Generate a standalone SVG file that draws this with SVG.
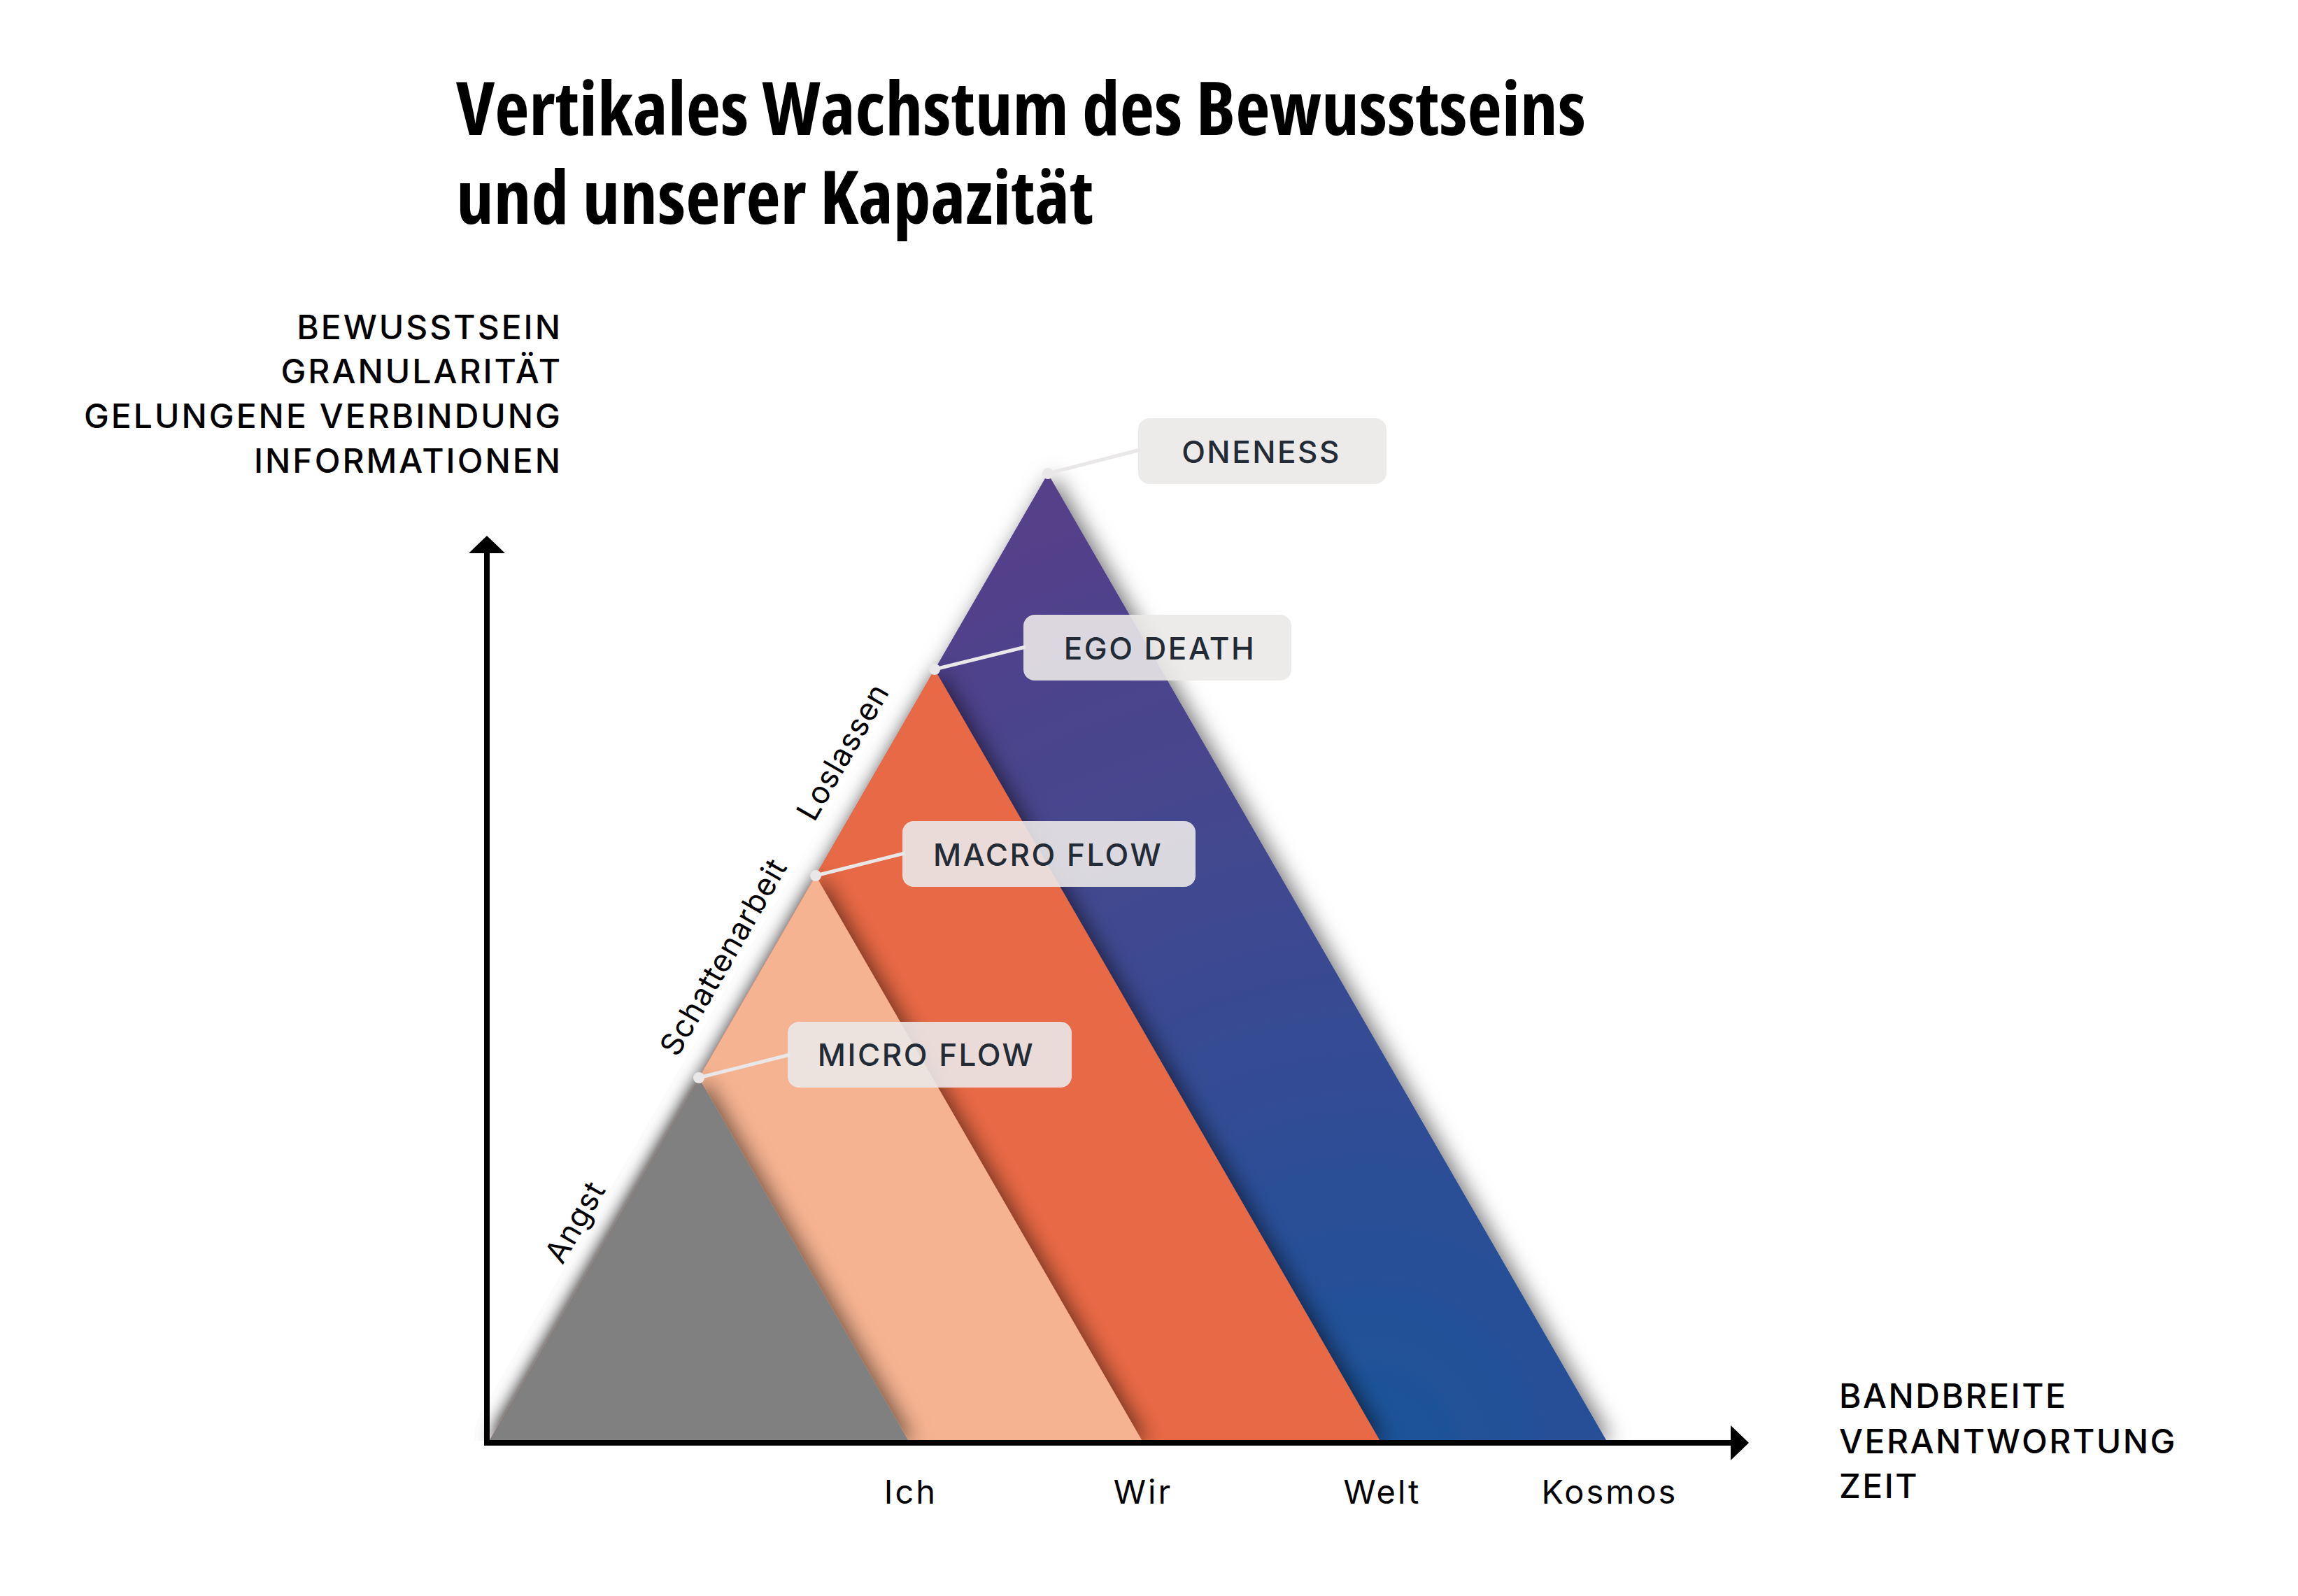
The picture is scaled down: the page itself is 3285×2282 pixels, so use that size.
<svg xmlns="http://www.w3.org/2000/svg" width="3285" height="2282" viewBox="0 0 3285 2282">
<style>
.title{font-family:"Open Sans","Liberation Sans",sans-serif;font-weight:700;font-stretch:condensed;font-size:105px;fill:#000}
.ax{font-family:Inter,"Liberation Sans",sans-serif;font-weight:500;font-size:48px;fill:#000;letter-spacing:3px}
.axr{font-family:Inter,"Liberation Sans",sans-serif;font-weight:500;font-size:48px;fill:#000;letter-spacing:2.5px}
.tick{font-family:Inter,"Liberation Sans",sans-serif;font-weight:400;font-size:47px;fill:#000;letter-spacing:3px}
.side{font-family:Inter,"Liberation Sans",sans-serif;font-weight:400;font-size:44px;fill:#000;letter-spacing:1px}
.box{fill:#ebe8e8;fill-opacity:0.9}
.btxt{font-family:Inter,"Liberation Sans",sans-serif;font-weight:500;font-size:44px;fill:#222b36;letter-spacing:2.5px;text-anchor:middle}
.conn{stroke:#e9e7e8;stroke-width:5;fill:none}
.dot{fill:#e9e7e8}
</style>
<defs>
<filter id="sh" x="-20%" y="-20%" width="140%" height="140%">
<feDropShadow dx="8" dy="2" stdDeviation="15" flood-color="#000" flood-opacity="0.55"/>
</filter>
<clipPath id="clipTop"><rect x="0" y="0" width="3285" height="2060"/></clipPath>
<radialGradient id="gPurple" gradientUnits="userSpaceOnUse" cx="1960" cy="2080" r="1450">
<stop offset="0" stop-color="#1a5399"/>
<stop offset="0.3" stop-color="#2d4e96"/>
<stop offset="0.6" stop-color="#42488f"/>
<stop offset="1" stop-color="#563f8a"/>
</radialGradient>
</defs>
<g id="title">
<text class="title" x="652" y="193" textLength="1615" lengthAdjust="spacingAndGlyphs">Vertikales Wachstum des Bewusstseins</text>
<text class="title" x="652" y="320" textLength="911" lengthAdjust="spacingAndGlyphs">und unserer Kapazität</text>
</g>
<g id="y-axis-labels" text-anchor="end">
<text class="ax" x="804" y="485">BEWUSSTSEIN</text>
<text class="ax" x="804" y="548">GRANULARITÄT</text>
<text class="ax" x="804" y="612">GELUNGENE VERBINDUNG</text>
<text class="ax" x="804" y="676">INFORMATIONEN</text>
</g>
<g id="x-axis-labels">
<text class="axr" x="2629" y="2013">BANDBREITE</text>
<text class="axr" x="2629" y="2078">VERANTWORTUNG</text>
<text class="axr" x="2629" y="2142">ZEIT</text>
</g>
<g id="pyramid" clip-path="url(#clipTop)">
<polygon id="kosmos" points="700,2059 1498,677 2296,2059" fill="url(#gPurple)" filter="url(#sh)"/>
<polygon id="welt" points="700,2059 1336,957 1972,2059" fill="#e86944" filter="url(#sh)"/>
<polygon id="wir" points="700,2059 1166,1252 1632,2059" fill="#f6b391" filter="url(#sh)"/>
<polygon id="ich" points="700,2059 999,1541 1298,2059" fill="#808080" filter="url(#sh)"/>
</g>
<g id="axes">
<line x1="696" y1="2067" x2="696" y2="788" stroke="#000" stroke-width="8"/>
<polygon points="670,791 696,766 722,791" fill="#000"/>
<line x1="692" y1="2063" x2="2477" y2="2063" stroke="#000" stroke-width="8"/>
<polygon points="2474,2038 2500,2063 2474,2088" fill="#000"/>
</g>
<g id="ticks" text-anchor="middle">
<text class="tick" x="1302" y="2150">Ich</text>
<text class="tick" x="1634" y="2150">Wir</text>
<text class="tick" x="1976" y="2150">Welt</text>
<text class="tick" x="2301" y="2150">Kosmos</text>
</g>
<g id="side-labels" text-anchor="middle">
<text class="side" transform="translate(865,1772) rotate(-60)" x="0" y="-34">Angst</text>
<text class="side" transform="translate(1082,1396) rotate(-60)" x="0" y="-40">Schattenarbeit</text>
<text class="side" transform="translate(1252,1102) rotate(-60)" x="0" y="-39">Loslassen</text>
</g>
<g id="connectors">
<line class="conn" x1="1498" y1="677" x2="1630" y2="643"/>
<line class="conn" x1="1336" y1="957" x2="1466" y2="925"/>
<line class="conn" x1="1166" y1="1252" x2="1293" y2="1220"/>
<line class="conn" x1="999" y1="1541" x2="1129" y2="1508"/>
<circle class="dot" cx="1498" cy="677" r="8"/>
<circle class="dot" cx="1336" cy="957" r="8"/>
<circle class="dot" cx="1166" cy="1252" r="8"/>
<circle class="dot" cx="999" cy="1541" r="8"/>
</g>
<g id="oneness">
<rect class="box" x="1627" y="598" width="355" height="94" rx="16"/>
<text class="btxt" x="1803" y="662">ONENESS</text>
</g>
<g id="ego-death">
<rect class="box" x="1463" y="879" width="383" height="94" rx="16"/>
<text class="btxt" x="1658" y="943">EGO DEATH</text>
</g>
<g id="macro-flow">
<rect class="box" x="1290" y="1174" width="419" height="94" rx="16"/>
<text class="btxt" x="1498" y="1238">MACRO FLOW</text>
</g>
<g id="micro-flow">
<rect class="box" x="1126" y="1461" width="406" height="94" rx="16"/>
<text class="btxt" x="1324" y="1524">MICRO FLOW</text>
</g>
</svg>
